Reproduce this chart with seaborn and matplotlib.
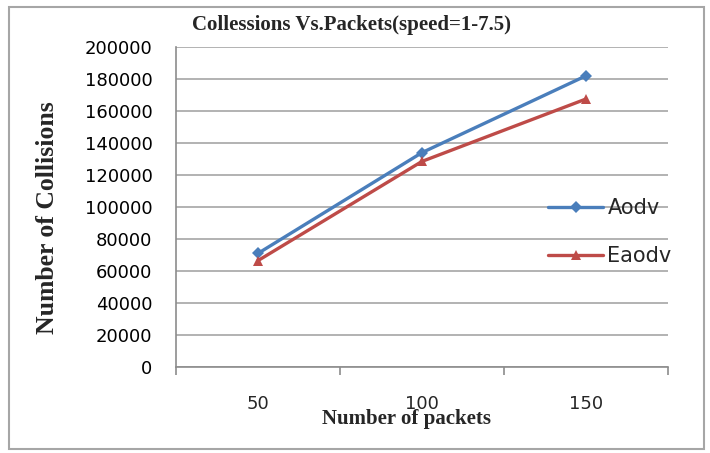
import matplotlib
matplotlib.use("Agg")
import matplotlib.pyplot as plt
import seaborn as sns
import pandas as pd
from matplotlib.patches import Rectangle

categories = ["50", "100", "150"]
aodv = [71000, 134000, 182000]
eaodv = [66500, 128500, 167500]
series_names = ["Aodv", "Eaodv"]

sns.set_theme(style="white")
plt.rcParams['font.family'] = ['DejaVu Sans']

W, H = 710, 453
fig = plt.figure(figsize=(W / 100, H / 100), dpi=100)
ax = fig.add_axes([176 / W, 1 - 367 / H, (668 - 176) / W, (367 - 47) / H])

df = pd.DataFrame({
    "packets": categories * 2,
    "collisions": aodv + eaodv,
    "protocol": [series_names[0]] * 3 + [series_names[1]] * 3,
})

palette = {"Aodv": "#4a7ebb", "Eaodv": "#be4b48"}
markers = {"Aodv": "D", "Eaodv": "^"}
sns.lineplot(data=df, x="packets", y="collisions", hue="protocol", style="protocol",
             palette=palette, markers=markers, dashes=False, linewidth=2.4,
             markersize=6.5, markeredgewidth=0, ax=ax, sort=False)

ax.set_xlim(-0.5, 2.5)
ax.set_ylim(0, 200000)
ax.set_yticks(range(0, 200001, 20000))
ax.set_yticklabels([str(v) for v in range(0, 200001, 20000)], fontsize=13)
ax.yaxis.grid(True, color="#a6a6a6", linewidth=1.2)
ax.xaxis.grid(False)
ax.tick_params(axis="y", length=0, pad=17, colors="black")

ax.set_xticks([-0.5, 0.5, 1.5, 2.5])
ax.set_xticklabels([])
ax.set_xticks([0, 1, 2], minor=True)
ax.set_xticklabels(categories, minor=True, fontsize=13)
ax.tick_params(axis="x", which="major", length=6, width=1.2, color="#8c8c8c", direction="out", bottom=True)
ax.tick_params(axis="x", which="minor", length=0, pad=20)

for s in ["top", "right"]:
    ax.spines[s].set_visible(False)
for s in ["left", "bottom"]:
    ax.spines[s].set_color("#8c8c8c")
    ax.spines[s].set_linewidth(1.2)

ax.set_xlabel("")
ax.set_ylabel("")

leg = ax.legend(loc="upper left", bbox_to_anchor=(548 / W, 1 - 198 / H),
                bbox_transform=fig.transFigure, frameon=False, borderpad=0,
                borderaxespad=0, handlelength=2.65, handletextpad=0.2,
                labelspacing=1.35, fontsize=15, title=None)

serif = ["Liberation Serif", "DejaVu Serif"]
fig.text(351 / W, 1 - 25 / H, "Collessions Vs.Packets(speed=1-7.5)", ha="center", va="center",
         fontsize=15, fontweight="bold", family=serif)
fig.text(407 / W, 1 - 419 / H, "Number of packets", ha="center", va="center",
         fontsize=15, fontweight="bold", family=serif)
fig.text(48 / W, 1 - 218 / H, "Number of Collisions", ha="center", va="center",
         rotation=90, fontsize=18.5, fontweight="bold", family=serif)

fig.patches.append(Rectangle((9 / W, 1 - 449 / H), (704 - 9) / W, (449 - 7) / H,
                             transform=fig.transFigure, fill=False,
                             edgecolor="#a6a6a6", linewidth=1.5))

fig.savefig("out.png", dpi=100)
